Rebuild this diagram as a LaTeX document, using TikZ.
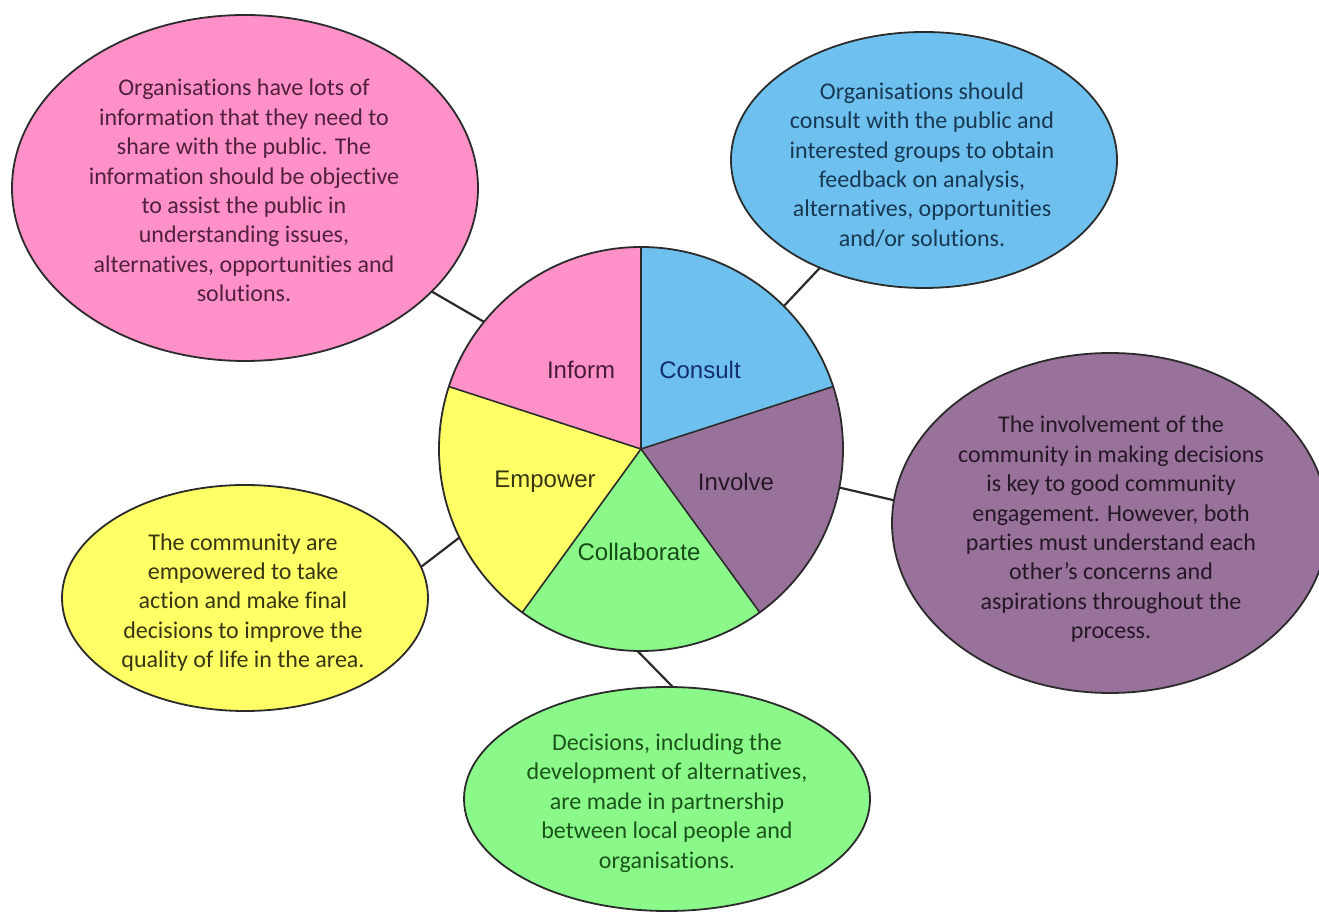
\documentclass[tikz,border=0pt]{standalone}
\usepackage{fontspec}
\setmainfont{Carlito}[Ligatures={NoCommon}]
\newfontfamily\labelfont{Liberation Sans}
\usetikzlibrary{shapes.geometric}
\definecolor{pinkf}{HTML}{FF90C8}
\definecolor{bluef}{HTML}{6EC1EE}
\definecolor{purpf}{HTML}{98729A}
\definecolor{yellf}{HTML}{FFFF66}
\definecolor{greenf}{HTML}{8AF98A}
\definecolor{pinkt}{HTML}{52203F}
\definecolor{bluet}{HTML}{183752}
\definecolor{purpt}{HTML}{261726}
\definecolor{yellt}{HTML}{363612}
\definecolor{greent}{HTML}{1A541A}
\definecolor{linec}{HTML}{2B2B2B}
\begin{document}
\begin{tikzpicture}[x=1pt,y=1pt,
  bubble/.style={ellipse, draw=linec, line width=1.8pt, inner sep=0pt, outer sep=0pt},
  btext/.style={align=center, font=\fontsize{24}{29.4}\selectfont, inner sep=0pt},
  plabel/.style={font=\labelfont\fontsize{24}{28}\selectfont, inner sep=0pt},
  pieline/.style={draw=linec, line width=1.6pt},
  link/.style={draw=linec, line width=2.2pt}]
\clip (0,0) rectangle (1319,912);
\useasboundingbox (0,0) rectangle (1319,912);
\fill[white] (0,0) rectangle (1319,912);

% outer ellipses
\node[bubble, fill=pinkf, minimum width=466pt, minimum height=346pt] (pink) at (245,724) {};
\node[bubble, fill=bluef, minimum width=386pt, minimum height=256pt] (blue) at (924,752) {};
\node[bubble, fill=purpf, minimum width=436pt, minimum height=340pt] (purp) at (1110,389) {};
\node[bubble, fill=yellf, minimum width=366pt, minimum height=226pt] (yell) at (245,314) {};
\node[bubble, fill=greenf, minimum width=406pt, minimum height=224pt] (green) at (667,113) {};

\node[btext, text=pinkt] (pinktext) at (244,721.5) {Organisations have lots of\\information that they need to\\share with the public. The\\information should be objective\\to assist the public in\\understanding issues,\\alternatives, opportunities and\\solutions.};
\node[btext, text=bluet] (bluetext) at (922,747) {Organisations should\\consult with the public and\\interested groups to obtain\\feedback on analysis,\\alternatives, opportunities\\and/or solutions.};
\node[btext, text=purpt] (purptext) at (1111,382.5) {The involvement of the\\community in making decisions\\is key to good community\\engagement. However, both\\parties must understand each\\other’s concerns and\\aspirations throughout the\\process.};
\node[btext, text=yellt] (yelltext) at (243,309.5) {The community are\\empowered to take\\action and make final\\decisions to improve the\\quality of life in the area.};
\node[btext, text=greent] (greentext) at (667,109) {Decisions, including the\\development of alternatives,\\are made in partnership\\between local people and\\organisations.};

% central pie
\node[circle, minimum size=404pt, inner sep=0pt, outer sep=0pt] (circ) at (641,463) {};
\fill[pinkf] (circ.center) -- (circ.90) arc[start angle=90, end angle=162, radius=202] -- cycle;
\fill[yellf] (circ.center) -- (circ.162) arc[start angle=162, end angle=234, radius=202] -- cycle;
\fill[greenf] (circ.center) -- (circ.234) arc[start angle=234, end angle=306, radius=202] -- cycle;
\fill[purpf] (circ.center) -- (circ.306) arc[start angle=306, end angle=378, radius=202] -- cycle;
\fill[bluef] (circ.center) -- (circ.18) arc[start angle=18, end angle=90, radius=202] -- cycle;
\draw[pieline] (circ.center) -- (circ.90);
\draw[pieline] (circ.center) -- (circ.162);
\draw[pieline] (circ.center) -- (circ.234);
\draw[pieline] (circ.center) -- (circ.306);
\draw[pieline] (circ.center) -- (circ.18);
\draw[pieline, line width=1.8pt] (circ.center) circle[radius=202];

\node[plabel, text=pinkt!85!black] (linform) at (581,542) {Inform};
\node[plabel, text=bluet!80!blue] (lconsult) at (700,542) {Consult};
\node[plabel, text=yellt] (lempower) at (545,430) {Empower};
\node[plabel, text=purpt] (linvolve) at (736,430) {Involve};
\node[plabel, text=greent!90!black] (lcollab) at (639,360) {Collaborate};

% connectors
\draw[link] (circ.141) -- (pink.-29);
\draw[link] (circ.45) -- (blue.226);
\draw[link] (circ.-11.5) -- (purp.174);
\draw[link] (circ.206) -- (yell.10.6);
\draw[link] (circ.-91) -- (green.87.4);
\end{tikzpicture}
\end{document}
